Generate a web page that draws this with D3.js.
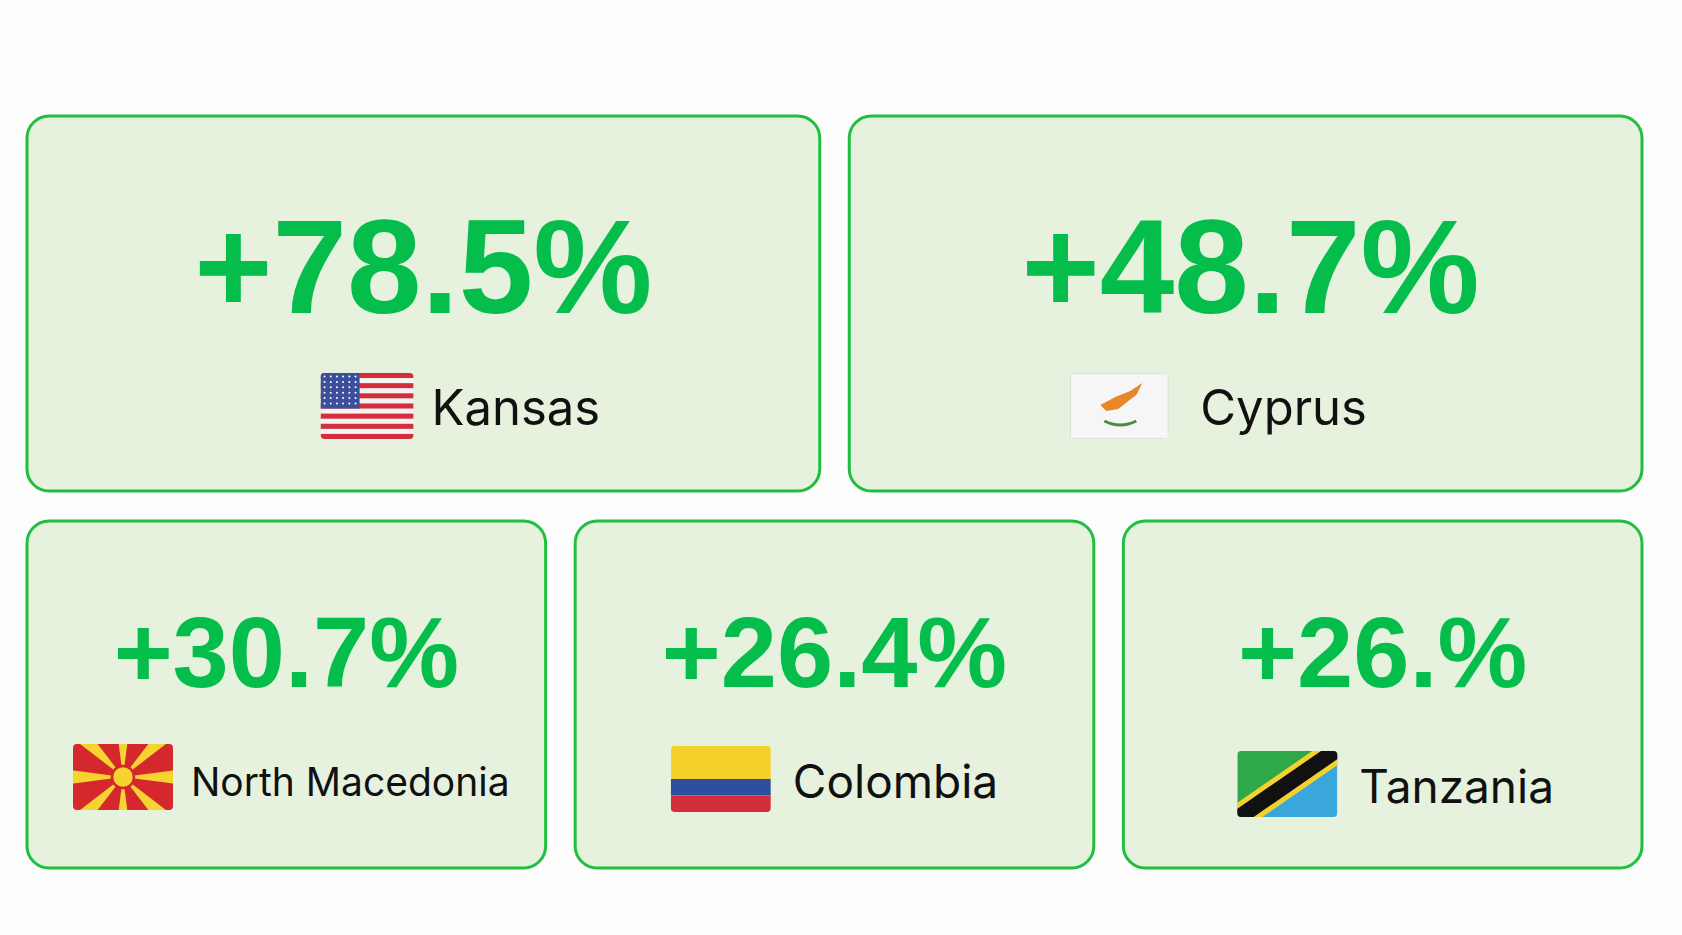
<!DOCTYPE html>
<html>
<head>
<meta charset="utf-8">
<script src="https://cdn.jsdelivr.net/npm/d3@7"></script>
<style>
  body { margin: 0; background: #fdfdfd; }
</style>
</head>
<body>
<script>
var width = 1682,
    height = 935;

// data
var regions = ["Kansas", "Cyprus", "North Macedonia", "Colombia", "Tanzania"];
var valueLabels = ["+78.5%", "+48.7%", "+30.7%", "+26.4%", "+26.%"];
var flags = ["us", "cy", "mk", "co", "tz"];

// card layout: two cards on top row, three on bottom
var rows = [[0, 1], [2, 3, 4]];
var pad = 27, gap = 29;
var rowY = [116, 521], rowH = [375, 347];
var valueSize = [134, 101], labelSize = [49, 46];

// per card nudges of the flag+label group and label baseline
var groupShift = [37, -27, 5, 0, 13];
var labelBase = [309, 309, 275, 277, 282];
var labelFont = [49, 49, 39, 46, 46];
var flagW = [93, 98, 100, 100, 100], flagH = 66;
var flagSpace = [18, 32, 18, 22, 22];

var svg = d3.select("body").append("svg")
    .attr("width", width)
    .attr("height", height);

var cards = [];
rows.forEach(function(r, ri) {
  var x = d3.scaleBand()
      .domain(r)
      .range([pad, width - 40])
      .paddingInner(gap / ((width - 40 - pad) / r.length));
  r.forEach(function(i) {
    cards.push({i: i, x: x(i), y: rowY[ri], w: x.bandwidth(), h: rowH[ri], row: ri});
  });
});

var g = svg.selectAll("g.card")
    .data(cards)
  .enter().append("g")
    .attr("class", "card")
    .attr("transform", function(d) { return "translate(" + d.x + "," + d.y + ")"; });

g.append("rect")
    .attr("width", function(d) { return d.w; })
    .attr("height", function(d) { return d.h; })
    .attr("rx", 22)
    .attr("fill", "#e6f2dd")
    .attr("stroke", "#1fbf40")
    .attr("stroke-width", 3);

g.append("text")
    .attr("x", function(d) { return d.w / 2 + (d.i == 1 ? 5 : 0); })
    .attr("y", function(d) { return d.row == 0 ? 197 : 166; })
    .attr("text-anchor", "middle")
    .attr("font-family", "Liberation Sans, Arial, sans-serif")
    .attr("font-weight", "bold")
    .attr("font-size", function(d) { return valueSize[d.row]; })
    .attr("fill", "#05bd4a")
    .text(function(d) { return valueLabels[d.i]; });

g.each(function(d) {
  var el = d3.select(this);
  var label = el.append("text")
      .attr("font-family", "Inter, Roboto, sans-serif")
      .attr("font-size", labelFont[d.i])
      .attr("fill", "#111")
      .text(regions[d.i]);
  var tw = label.node().getComputedTextLength();
  var fw = flagW[d.i], sp = flagSpace[d.i];
  var total = fw + sp + tw;
  var x0 = (d.w - total) / 2 + groupShift[d.i];
  var base = labelBase[d.i];
  label.attr("x", x0 + fw + sp).attr("y", base);
  var f = el.append("g").attr("transform", "translate(" + x0 + "," + (base - flagH + 14) + ")");
  drawFlag(f, flags[d.i], fw, flagH);
});

function drawFlag(f, code, w, h) {
  var clipId = "clip-" + code;
  f.append("clipPath").attr("id", clipId)
    .append("rect").attr("width", w).attr("height", h).attr("rx", 4);
  var c = f.append("g").attr("clip-path", "url(#" + clipId + ")");
  if (code == "us") {
    var ys = d3.scaleBand().domain(d3.range(13)).range([0, h]);
    c.selectAll("rect.s").data(d3.range(13)).enter().append("rect")
      .attr("y", function(k) { return ys(k); })
      .attr("width", w).attr("height", ys.bandwidth() + 0.5)
      .attr("fill", function(k) { return k % 2 ? "#f4f4f4" : "#d22f3a"; });
    c.append("rect").attr("width", w * 0.42).attr("height", ys(7)).attr("fill", "#3b4f9a");
    for (var r = 0; r < 6; r++) for (var s = 0; s < 6; s++)
      c.append("circle").attr("cx", 4 + s * 6.2).attr("cy", 3.5 + r * 5.4).attr("r", 1).attr("fill", "#fff");
  } else if (code == "cy") {
    c.append("rect").attr("width", w).attr("height", h).attr("fill", "#f6f6f6").attr("stroke", "#ccc");
    c.append("path").attr("d", "M30,32 L45,24 L60,18 L72,10 L66,22 L58,28 L48,36 L36,38 Z").attr("fill", "#e8862a");
    c.append("path").attr("d", "M34,48 Q50,56 66,48").attr("fill", "none").attr("stroke", "#4d8a3a").attr("stroke-width", 3);
  } else if (code == "mk") {
    c.append("rect").attr("width", w).attr("height", h).attr("fill", "#d4282c");
    var cx = w / 2, cy = h / 2;
    d3.range(8).forEach(function(k) {
      var a = k * Math.PI / 4, b = 0.13;
      var R = 80;
      c.append("path").attr("d", "M" + cx + "," + cy +
        "L" + (cx + R * Math.cos(a - b)) + "," + (cy + R * Math.sin(a - b)) +
        "L" + (cx + R * Math.cos(a + b)) + "," + (cy + R * Math.sin(a + b)) + "Z")
        .attr("fill", "#f7d331");
    });
    c.append("circle").attr("cx", cx).attr("cy", cy).attr("r", 11).attr("fill", "#f7d331").attr("stroke", "#d4282c").attr("stroke-width", 2.5);
  } else if (code == "co") {
    c.append("rect").attr("width", w).attr("height", h / 2).attr("fill", "#f6d02a");
    c.append("rect").attr("y", h / 2).attr("width", w).attr("height", h / 4).attr("fill", "#2e4fa0");
    c.append("rect").attr("y", h * 3 / 4).attr("width", w).attr("height", h / 4).attr("fill", "#d22f3a");
  } else if (code == "tz") {
    c.append("path").attr("d", "M0,0 L" + w + ",0 L0," + h + "Z").attr("fill", "#2fa84a");
    c.append("path").attr("d", "M" + w + ",0 L" + w + "," + h + " L0," + h + "Z").attr("fill", "#3aa7dc");
    c.append("line").attr("x1", -5).attr("y1", h + 5).attr("x2", w + 5).attr("y2", -5)
      .attr("stroke", "#f5d130").attr("stroke-width", 26);
    c.append("line").attr("x1", -5).attr("y1", h + 5).attr("x2", w + 5).attr("y2", -5)
      .attr("stroke", "#111").attr("stroke-width", 16);
  }
}
</script>
</body>
</html>
